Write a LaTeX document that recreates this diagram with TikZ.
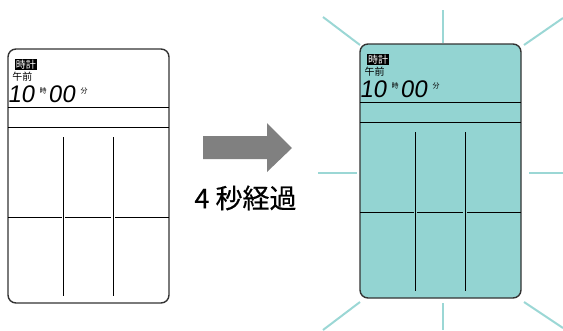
\documentclass[tikz,border=0pt]{standalone}
\usepackage{fontspec}
\usetikzlibrary{positioning,calc}
\newfontfamily\jp{Noto Sans CJK JP}
\newfontfamily\jpbig{Noto Sans CJK JP}[FakeBold=0.4]
\newfontfamily\segfont{Liberation Sans}[FakeSlant=0.15]
\definecolor{lcdon}{HTML}{93D4D2}
\definecolor{glow}{HTML}{9BD7D5}
\definecolor{frame}{HTML}{333333}
\definecolor{arrgray}{HTML}{808080}

\begin{document}
\begin{tikzpicture}[x=1pt,y=-1pt,
    panel/.style={rectangle,draw=frame,rounded corners=8pt,line width=1.4pt,minimum width=161pt,minimum height=254pt,inner sep=0pt,outer sep=0pt},
    seg/.style={line width=0.9pt,black},
    ray/.style={glow,line width=2pt},
    tag/.style={fill=black,text=white,inner sep=0.8pt,font=\jp\fontsize{10}{10}\selectfont},
    lbl/.style={inner sep=0pt,font=\jp\fontsize{10}{10}\selectfont},
    unit/.style={inner sep=0pt,font=\jp\fontsize{7}{7}\selectfont},
    digits/.style={inner sep=0pt,font=\segfont\fontsize{24}{24}\selectfont},
]
\useasboundingbox (0,0) rectangle (563,330);

% LCD panels (before / after)
\foreach \nm/\px/\py/\col in {lcdA/8/49/white,lcdB/360/44/lcdon}{
  \begin{scope}[shift={(\px,\py)}]
    \node[panel,fill=\col] (\nm) at (80.5,127) {};
    \draw[seg] (0,58) -- (161,58);
    \draw[seg] (0,78) -- (161,78);
    \draw[seg] (55,88) -- (55,247);
    \draw[seg] (105,88) -- (105,247);
    \draw[seg] (0,168) -- (54,168);
    \draw[seg] (57,168) -- (103,168);
    \draw[seg] (107,168) -- (161,168);
    \node[tag] (\nm-clk) at (18,15.5) {時計};
    \node[lbl] (\nm-am) at (14.5,28) {午前};
    \node[digits,anchor=base east] (\nm-hh) at (26.5,53) {10};
    \node[unit] (\nm-h) at (35,42) {時};
    \node[digits,anchor=base west] (\nm-mm) at (40,53) {00};
    \node[unit] (\nm-m) at (76,42) {分};
  \end{scope}
}

% Arrow
\fill[arrgray] (203,136) -- (267,136) -- (267,123) -- (292,148) -- (267,172) -- (267,159) -- (203,159) -- cycle;
\node[font=\jpbig\fontsize{27}{27}\selectfont,inner sep=0pt] (wait) at (245.5,198) {4 秒経過};

% Glow rays
\foreach \ax/\ay/\bx/\by in {443/10/443/43, 443/303/443/330, 318/173/357/173, 529/173/563/173,
    323/17/360/45, 524/45/563/18, 360/302/323/330, 524/302/563/328}
  \draw[ray] (\ax,\ay) -- (\bx,\by);
\end{tikzpicture}
\end{document}
